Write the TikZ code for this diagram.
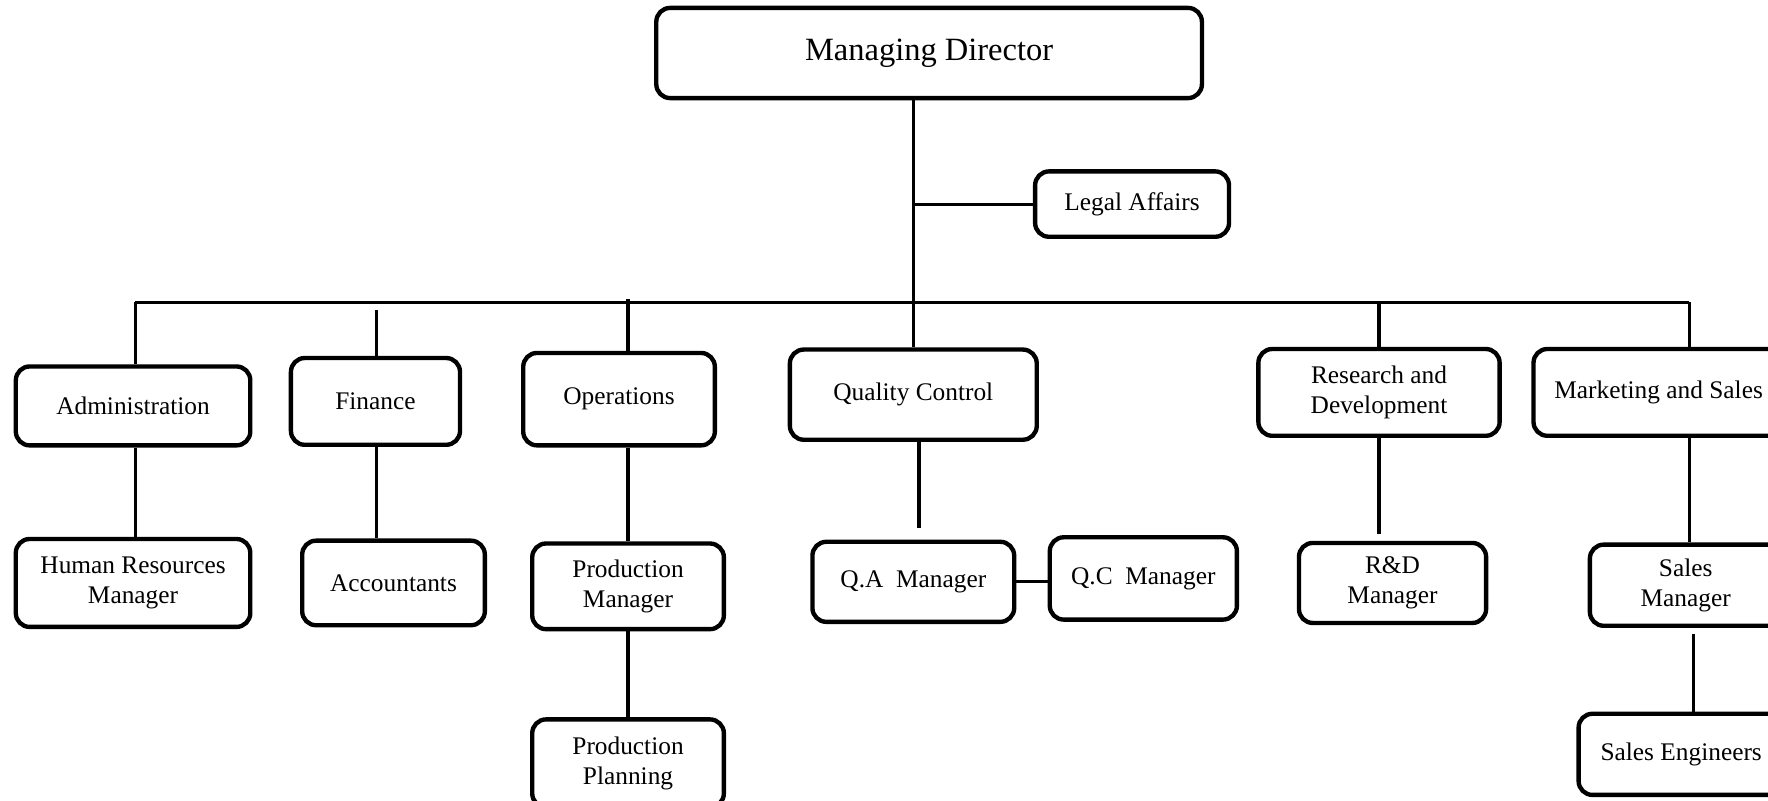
\documentclass[tikz,border=0pt]{standalone}
\usepackage{fontspec}
\setmainfont{Liberation Serif}
\usetikzlibrary{positioning, calc}

\begin{document}
\begin{tikzpicture}[x=0.02cm, y=-0.02cm,
    box/.style={draw, line width=2.2pt, rounded corners=7pt, align=center, inner sep=2pt, font=\fontsize{12.8}{15.4}\selectfont},
    link/.style={line width=1.6pt}]
        \clip (0,0) rectangle (1568,710);
        % top
        \node[box, minimum width=9.68cm, minimum height=1.6cm, font=\fontsize{16.4}{19}\selectfont] (md) at (824,47) {Managing Director};
        \node[box, minimum width=3.44cm, minimum height=1.16cm] (legal) at (1004,181) {Legal Affairs};
        % departments
        \node[box, minimum width=4.16cm, minimum height=1.4cm] (admin) at (118,360) {Administration};
        \node[box, minimum width=3.0cm, minimum height=1.54cm] (fin) at (333,356) {Finance};
        \node[box, minimum width=3.4cm, minimum height=1.64cm] (ops) at (549,354) {Operations};
        \node[box, minimum width=4.38cm, minimum height=1.6cm] (qc) at (810,350) {Quality Control};
        \node[box, minimum width=4.28cm, minimum height=1.54cm] (rd) at (1223,348) {Research and\\Development};
        \node[box, minimum width=4.44cm, minimum height=1.54cm] (mkt) at (1471,348) {Marketing and Sales};
        % staff
        \node[box, minimum width=4.16cm, minimum height=1.56cm] (hr) at (118,517) {Human Resources\\Manager};
        \node[box, minimum width=3.24cm, minimum height=1.5cm] (acc) at (349,517) {Accountants};
        \node[box, minimum width=3.4cm, minimum height=1.52cm] (pm) at (557,520) {Production\\Manager};
        \node[box, minimum width=3.4cm, minimum height=1.56cm] (pp) at (557,677) {Production\\Planning};
        \node[box, minimum width=3.58cm, minimum height=1.42cm] (qa) at (810,516) {Q.A~ Manager};
        \node[box, minimum width=3.32cm, minimum height=1.46cm] (qcm) at (1014,513) {Q.C~ Manager};
        \node[box, minimum width=3.32cm, minimum height=1.42cm] (rdm) at (1235,517) {R\&D\\Manager};
        \node[box, minimum width=3.4cm, minimum height=1.44cm] (sm) at (1495,519) {Sales\\Manager};
        \node[box, minimum width=3.64cm, minimum height=1.44cm] (se) at (1491,669) {Sales Engineers};
        % bus and loose ends
        \coordinate (busL) at (120,268);
        \coordinate (busR) at (1498,268);
        \coordinate (finTop) at (334,275);
        \coordinate (opsTop) at (557,265);
        \coordinate (qaEnd) at (815,468);
        \coordinate (rdEnd) at (1223,474);
        \coordinate (seTop) at (1502,562);
        % lines
        \draw[link] (qc.north |- md.south) -- (qc.north);
        \draw[link] (qc.north |- legal.west) -- (legal.west);
        \draw[link] (busL) -- (busR);
        \draw[link] (busL) -- (busL |- admin.north);
        \draw[link] (busL |- admin.south) -- (busL |- hr.north);
        \draw[link] (finTop) -- (finTop |- fin.north);
        \draw[link] (finTop |- fin.south) -- (finTop |- acc.north);
        \draw[link] (opsTop) -- (opsTop |- ops.north);
        \draw[link] (opsTop |- ops.south) -- (pm.north);
        \draw[link] (pm.south) -- (pp.north);
        \draw[link] (qaEnd |- qc.south) -- (qaEnd);
        \draw[link] (qa.east) -- (qa.east -| qcm.west);
        \draw[link] (rdEnd |- busL) -- (rdEnd |- rd.north);
        \draw[link] (rdEnd |- rd.south) -- (rdEnd);
        \draw[link] (busR) -- (busR |- mkt.north);
        \draw[link] (busR |- mkt.south) -- (busR |- sm.north);
        \draw[link] (seTop) -- (seTop |- se.north);
      \end{tikzpicture}
\end{document}
